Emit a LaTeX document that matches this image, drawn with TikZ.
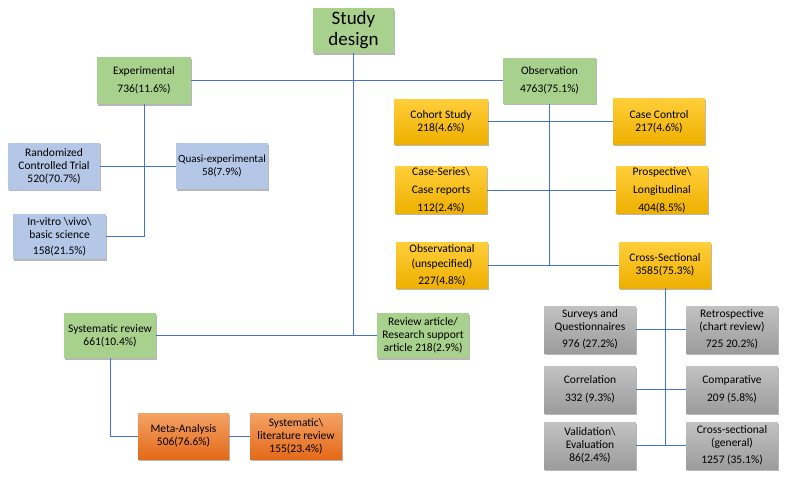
\documentclass[tikz,border=0pt]{standalone}
\usepackage{fontspec}
\setmainfont{Carlito}
\usetikzlibrary{shadows}
\definecolor{gfill}{HTML}{A9D18E}
\definecolor{bfill}{HTML}{B4C7E7}
\definecolor{ytop}{HTML}{FFCE3A}
\definecolor{ybot}{HTML}{EEB000}
\definecolor{otop}{HTML}{F4A266}
\definecolor{obot}{HTML}{E46A18}
\definecolor{ktop}{HTML}{C2C2C2}
\definecolor{kbot}{HTML}{9C9C9C}
\definecolor{lnk}{HTML}{4472C4}
\tikzset{
  box/.style={rectangle, align=center, inner sep=1pt, minimum width=92pt, minimum height=46pt,
    font=\fontsize{11.5}{13}\selectfont,
    drop shadow={shadow xshift=1.2pt, shadow yshift=-1.5pt, opacity=0.4, fill=black!70}},
  gbox/.style={box, fill=gfill},
  bbox/.style={box, fill=bfill},
  ybox/.style={box, top color=ytop, bottom color=ybot},
  obox/.style={box, top color=otop, bottom color=obot},
  kbox/.style={box, top color=ktop, bottom color=kbot},
  link/.style={draw=lnk, line width=0.9pt},
}
\begin{document}
\begin{tikzpicture}[x=1pt, y=-1pt]
\useasboundingbox (0,0) rectangle (800,480);
% nodes
\node[gbox, minimum width=81pt, minimum height=45pt, font=\fontsize{19}{21}\selectfont] (study) at (353.5,30.5) {Study\\design};
\node[gbox, minimum width=94pt, minimum height=47pt, font=\fontsize{11.5}{18}\selectfont] (exp) at (144,80.5) {Experimental\\736(11.6\%)};
\node[gbox, minimum width=93pt, font=\fontsize{11.5}{18}\selectfont] (obs) at (549.5,80.5) {Observation\\4763(75.1\%)};

\node[ybox, minimum width=94pt, minimum height=45pt] (cohort) at (441,121.5) {Cohort Study\\218(4.6\%)};
\node[ybox] (cc) at (659,121.5) {Case Control\\217(4.6\%)};
\node[ybox, font=\fontsize{11.5}{18}\selectfont] (cser) at (441,190) {Case-Series\textbackslash\\Case reports\\112(2.4\%)};
\node[ybox, font=\fontsize{11.5}{18}\selectfont] (prosp) at (662,190) {Prospective\textbackslash\\Longitudinal\\404(8.5\%)};
\node[ybox, font=\fontsize{11.5}{15}\selectfont] (unspec) at (442,265) {Observational\\(unspecified)\\[2pt]227(4.8\%)};
\node[ybox] (cross) at (665,265) {Cross-Sectional\\3585(75.3\%)};

\node[bbox, minimum height=47pt] (rct) at (54,166) {Randomized\\Controlled Trial\\520(70.7\%)};
\node[bbox, font=\fontsize{11}{13}\selectfont] (quasi) at (222,166) {Quasi-experimental\\58(7.9\%)};
\node[bbox, minimum width=93pt, minimum height=45pt] (invitro) at (59.5,236.5) {In-vitro \textbackslash vivo\textbackslash\\basic science\\[3pt]158(21.5\%)};

\node[gbox, minimum height=45pt] (sr) at (110,335.5) {Systematic review\\661(10.4\%)};
\node[gbox, minimum height=45pt] (ra) at (423,335.5) {Review article/\\Research support\\article 218(2.9\%)};

\node[obox, minimum width=91pt] (meta) at (183.5,436) {Meta-Analysis\\506(76.6\%)};
\node[obox] (syslit) at (296,436) {Systematic\textbackslash\\literature review\\155(23.4\%)};

\node[kbox, minimum height=47pt] (surv) at (590,329.5) {Surveys and\\Questionnaires\\[4pt]976 (27.2\%)};
\node[kbox, minimum height=47pt] (retro) at (732,329.5) {Retrospective\\(chart review)\\[4pt]725 20.2\%)};
\node[kbox, minimum height=47pt, font=\fontsize{11.5}{18}\selectfont] (corr) at (590,389.5) {Correlation\\332 (9.3\%)};
\node[kbox, minimum height=47pt, font=\fontsize{11.5}{18}\selectfont] (comp) at (732,389.5) {Comparative\\209 (5.8\%)};
\node[kbox, minimum height=47pt] (valid) at (590,445.5) {Validation\textbackslash\\Evaluation\\86(2.4\%)};
\node[kbox, minimum height=47pt] (csgen) at (732,445.5) {Cross-sectional\\(general)\\[4pt]1257 (35.1\%)};

% connectors
\draw[link] (exp.east) -- (obs.west);
\draw[link] (study.south) -- (study.south |- sr.east);
\draw[link] (sr.east) -- (ra.west);
\draw[link] (exp.south) -- (exp.south |- invitro.east) -- (invitro.east);
\draw[link] (rct.east) -- (quasi.west);
\draw[link] (obs.south) -- (obs.south |- unspec.east);
\draw[link] (cohort.east) -- (cc.west);
\draw[link] (cser.east) -- (prosp.west);
\draw[link] (unspec.east) -- (cross.west);
\draw[link] (cross.south) -- (cross.south |- valid.east);
\draw[link] (surv.east) -- (retro.west);
\draw[link] (corr.east) -- (comp.west);
\draw[link] (valid.east) -- (csgen.west);
\draw[link] (sr.south) -- (sr.south |- meta.west) -- (meta.west);
\draw[link] (meta.east) -- (syslit.west);
\end{tikzpicture}
\end{document}
